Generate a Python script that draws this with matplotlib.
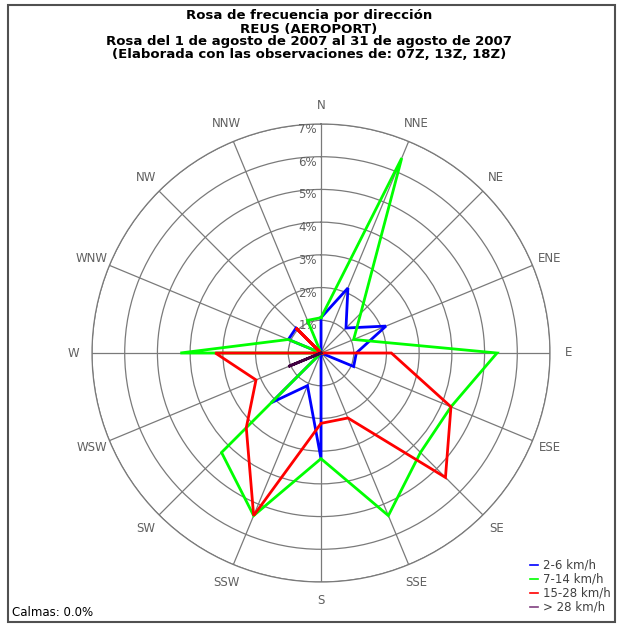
#! /usr/bin/env python3

import numpy as np
import matplotlib
matplotlib.use("Agg")
import matplotlib.pyplot as plt
from matplotlib.patches import Rectangle

# Directions (clockwise from north)
directions = ["N", "NNE", "NE", "ENE", "E", "ESE", "SE", "SSE",
              "S", "SSW", "SW", "WSW", "W", "WNW", "NW", "NNW"]

# Frequency (%) by speed class, read from the rose
freq_2_6 = [1.08, 2.15, 1.08, 2.15, 1.08, 1.08, 0.00, 0.00,
            3.23, 1.08, 2.15, 0.00, 0.00, 1.08, 1.08, 0.00]
freq_7_14 = [1.08, 6.45, 1.72, 1.08, 5.38, 4.30, 4.30, 5.38,
             3.23, 5.38, 4.30, 0.00, 4.30, 1.08, 0.00, 1.08]
freq_15_28 = [0.00, 0.00, 0.00, 0.00, 2.15, 4.30, 5.38, 2.15,
              2.15, 5.38, 3.23, 2.15, 3.23, 0.00, 1.08, 0.00]
freq_gt_28 = [0.00, 0.00, 0.00, 0.00, 0.00, 0.00, 0.00, 0.00,
              0.00, 0.00, 0.00, 1.08, 0.00, 0.00, 0.00, 0.00]

series_labels = ["2-6 km/h", "7-14 km/h", "15-28 km/h", "> 28 km/h"]
series_colors = ["#0000ff", "#00ff00", "#ff0000", "#400040"]
legend_colors = ["#0000ff", "#00ff00", "#ff0000", "#804080"]
rings = [1, 2, 3, 4, 5, 6, 7]

title_lines = [
    "Rosa de frecuencia por dirección",
    "REUS (AEROPORT)",
    "Rosa del 1 de agosto de 2007 al 31 de agosto de 2007",
    "(Elaborada con las observaciones de: 07Z, 13Z, 18Z)",
]
calmas = "Calmas: 0.0%"

W, H = 617, 625
fig = plt.figure(figsize=(W / 100, H / 100), dpi=100)
fig.patch.set_facecolor("white")

# Polar axes placed so the centre sits at (321, 353) px, radius 229 px
cx, cy, R = 321, 353, 229
ax = fig.add_axes(
    [(cx - R) / W, (H - cy - R) / H, 2 * R / W, 2 * R / H], projection="polar"
)
ax.set_theta_zero_location("N")
ax.set_theta_direction(-1)
ax.set_ylim(0, 7)
ax.set_facecolor("white")

grid_color = "#7a7a7a"
label_color = "#606060"
theta_dirs = np.deg2rad(np.arange(16) * 22.5)

ax.set_xticks(theta_dirs)
ax.set_xticklabels([])
ax.set_yticks(rings)
ax.set_yticklabels([])
ax.grid(True, color=grid_color, linewidth=0.9)
ax.spines["polar"].set_color(grid_color)
ax.spines["polar"].set_linewidth(0.9)
ax.tick_params(length=0)

# Direction names just outside the rose
for th, name in zip(theta_dirs, directions):
    ax.text(th, 7.58, name, ha="center", va="center", color=label_color,
            fontsize=8.5, clip_on=False)

# Ring labels along the north axis
for k in rings:
    ax.annotate(f"{k}%", xy=(0, k), xytext=(-4, 1), textcoords="offset pixels",
                ha="right", va="top", color=label_color, fontsize=8.5)

# Series polygons
theta_closed = np.append(theta_dirs, theta_dirs[0])
for vals, col in zip([freq_2_6, freq_7_14, freq_15_28, freq_gt_28], series_colors):
    r = np.append(vals, vals[0])
    ax.plot(theta_closed, r, color=col, linewidth=2, solid_joinstyle="miter",
            zorder=5)

# Title block
title_y = [16, 29, 42, 55]
for line, yy in zip(title_lines, title_y):
    fig.text(309 / W, 1 - yy / H, line, ha="center", va="center",
             fontsize=9.5, fontweight="bold", color="black")

# Legend at bottom right
leg_y = [565, 579, 593, 607]
for lab, col, yy in zip(series_labels, legend_colors, leg_y):
    fig.add_artist(plt.Line2D([530 / W, 538 / W], [1 - yy / H, 1 - yy / H],
                              color=col, linewidth=1.2))
    fig.text(543 / W, 1 - yy / H, lab, ha="left", va="center",
             fontsize=8.5, color="#404040")

fig.text(12 / W, 1 - 613 / H, calmas, ha="left", va="center",
         fontsize=8.5, color="black")

# Outer frame
fig.add_artist(Rectangle((8 / W, 3 / H), 607 / W, 617 / H,
                         transform=fig.transFigure, fill=False,
                         edgecolor="#505050", linewidth=1.5))

fig.savefig("out.png", dpi=100)
